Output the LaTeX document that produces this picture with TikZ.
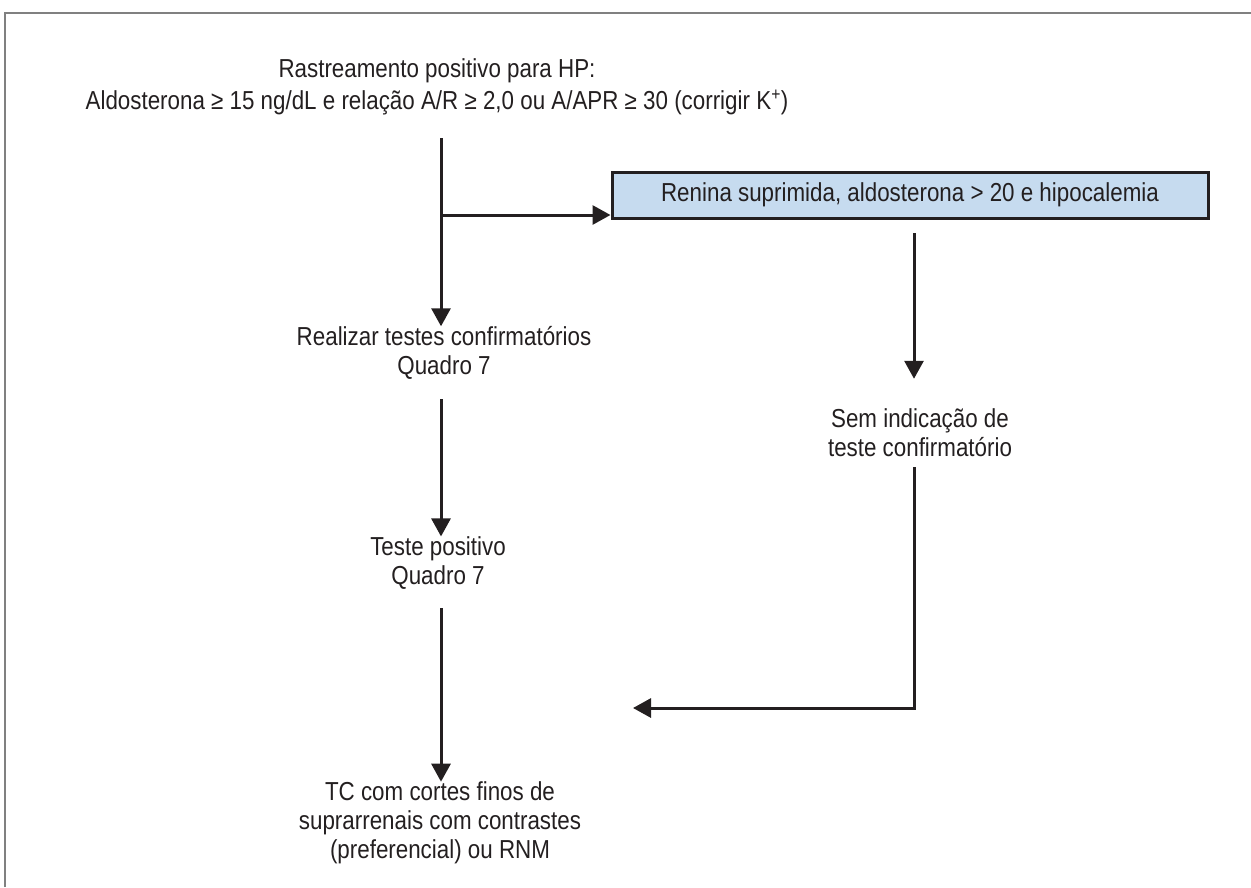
\documentclass[tikz,border=0pt]{standalone}
\usepackage{fontspec}
\setmainfont{Liberation Sans}[FakeStretch=0.86]
\usetikzlibrary{arrows.meta}
\definecolor{azulcaixa}{HTML}{C6DBEF}
\definecolor{tinta}{HTML}{231F20}

\begin{document}
\begin{tikzpicture}[x=1pt,y=-1pt,
    texto/.style={inner sep=0pt,align=center,text=tinta,font=\fontsize{26}{29}\selectfont},
    caixa/.style={draw=tinta,line width=3pt,fill=azulcaixa,minimum width=596pt,minimum height=46pt,inner sep=0pt,text=tinta,font=\fontsize{26}{29}\selectfont},
    seta/.style={draw=tinta,line width=3pt,-{Triangle[length=18pt,width=19pt]}},
    moldura/.style={draw=gray,line width=1.5pt}]
    \useasboundingbox (0,0) rectangle (1251,887);
    \draw[moldura] (5,887) -- (5,13) -- (1251,13);

    \node[texto] (rastreio) at (437,87) {Rastreamento positivo para HP:\\[3pt]Aldosterona ≥ 15 ng/dL e relação A/R ≥ 2,0 ou A/APR ≥ 30 (corrigir K\textsuperscript{+})};
    \node[caixa] (renina) at (910,195) {Renina suprimida, aldosterona > 20 e hipocalemia};
    \node[texto] (realizar) at (444,353) {Realizar testes confirmatórios\\Quadro 7};
    \node[texto] (teste) at (438,563) {Teste positivo\\Quadro 7};
    \node[texto] (sem) at (920,433) {Sem indicação de\\teste confirmatório};
    \node[texto] (tc) at (440,823) {TC com cortes finos de\\suprarrenais com contrastes\\(preferencial) ou RNM};

    \coordinate (esq0) at (441,138);
    \coordinate (ramo) at (441,215);
    \coordinate (esq1) at (441,399);
    \coordinate (esq2) at (441,608);
    \coordinate (dir0) at (914,233);
    \coordinate (dir1) at (914,467);
    \coordinate (volta) at (633,708);

    \draw[seta] (esq0) -- (esq0 |- realizar.north);
    \draw[seta] (ramo) -- (ramo -| renina.west);
    \draw[seta] (esq1) -- (esq1 |- teste.north);
    \draw[seta] (esq2) -- (esq2 |- tc.north);
    \draw[seta,shorten >=30pt] (dir0) -- (dir0 |- sem.north);
    \draw[seta] (dir1) |- (volta);
\end{tikzpicture}
\end{document}
